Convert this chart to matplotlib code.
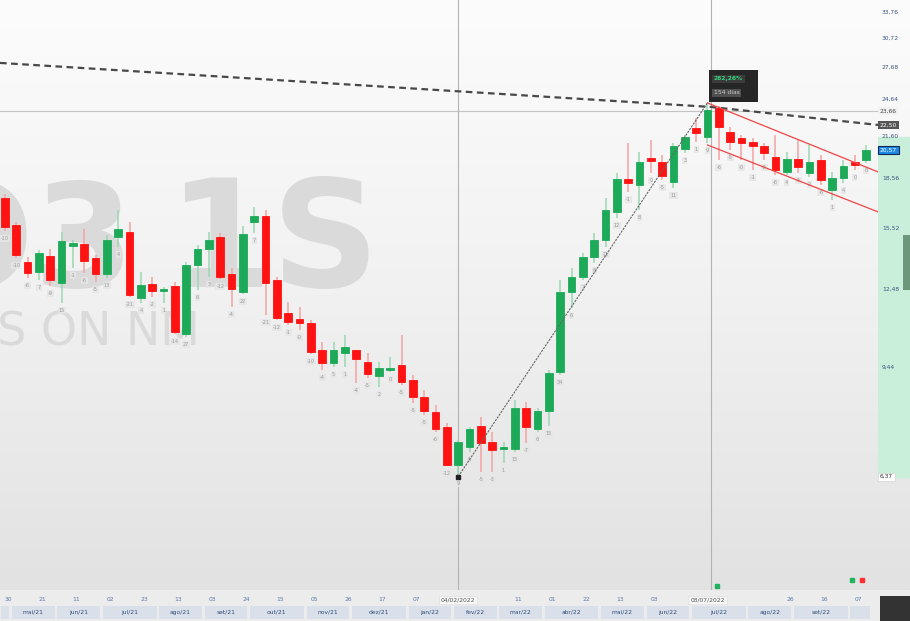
import matplotlib
matplotlib.use("Agg")
import matplotlib.pyplot as plt
import matplotlib.transforms as mtrans
from matplotlib.patches import Rectangle
from matplotlib.colors import LinearSegmentedColormap
import numpy as np
import pandas as pd

# weekly candles (1S)
ticker = "ONCO3"
period = "1S"
company = "ONCOCLINICAS ON NM"
first_week = "2021-04-30"

opens = [17.31, 15.72, 13.76, 13.28, 14.06, 12.76, 14.57, 14.68, 13.96, 13.18,
         15.05, 15.33, 12.09, 12.72, 12.40, 12.63, 10.63, 13.61, 14.42, 15.05,
         13.18, 12.36, 15.89, 16.23, 12.90, 11.46, 11.21, 11.05, 10.03, 9.58,
         9.93, 10.03, 9.61, 9.14, 9.34, 9.51, 9.01, 8.48, 8.03, 7.61,
         6.64, 7.08, 7.64, 7.21, 7.03, 7.03, 8.15, 7.56, 8.06, 9.27,
         12.36, 13.04, 14.01, 14.89, 16.47, 18.54, 18.14, 19.99, 19.70, 18.34,
         20.64, 22.26, 21.55, 23.92, 21.94, 21.48, 21.17, 20.87, 20.06, 19.01,
         19.92, 18.94, 19.85, 17.82, 18.60, 19.70, 19.85]
highs = [17.57, 15.89, 14.01, 14.37, 14.42, 15.33, 14.89, 15.49, 14.11, 15.16,
         16.58, 15.89, 13.28, 13.04, 12.58, 12.81, 13.76, 14.63, 15.33, 15.27,
         13.47, 15.66, 16.76, 16.58, 13.04, 11.92, 11.71, 11.17, 10.33, 10.33,
         10.59, 10.05, 9.93, 9.61, 9.79, 10.59, 9.17, 8.69, 8.24, 7.72,
         7.26, 7.61, 7.89, 7.48, 7.21, 8.38, 8.32, 8.15, 9.34, 12.90,
         13.47, 14.21, 15.27, 17.31, 18.94, 21.09, 20.42, 21.32, 20.20, 21.09,
         21.71, 23.07, 24.35, 24.09, 22.34, 21.71, 21.48, 21.09, 21.71, 20.42,
         21.32, 20.94, 20.20, 19.01, 19.85, 20.20, 20.94]
lows = [15.38, 13.96, 12.99, 12.90, 12.63, 11.88, 13.47, 13.23, 12.81, 12.99,
        14.52, 12.14, 11.88, 12.14, 11.88, 10.63, 10.51, 12.44, 13.04, 12.95,
        11.71, 12.27, 15.27, 11.38, 11.17, 10.98, 10.78, 9.89, 9.34, 9.44,
        9.44, 8.91, 9.07, 8.79, 9.27, 8.85, 8.30, 7.95, 7.48, 6.62,
        6.37, 6.96, 6.48, 6.48, 6.69, 6.96, 7.19, 7.48, 7.64, 9.17,
        11.67, 12.90, 13.71, 14.52, 16.12, 17.69, 16.58, 18.94, 18.47, 17.95,
        20.35, 21.17, 21.09, 19.85, 20.57, 19.85, 19.14, 19.85, 18.80, 18.80,
        18.94, 18.67, 18.14, 17.19, 18.27, 19.14, 19.63]
closes = [15.60, 14.11, 13.23, 14.21, 12.90, 14.84, 14.73, 13.81, 13.18, 14.89,
          15.49, 12.22, 12.67, 12.40, 12.49, 10.70, 13.61, 14.42, 14.89, 13.04,
          12.49, 15.22, 16.23, 12.76, 11.25, 11.09, 11.05, 9.96, 9.58, 10.03,
          10.14, 9.71, 9.21, 9.41, 9.41, 8.95, 8.48, 8.06, 7.56, 6.64,
          7.21, 7.56, 7.19, 7.01, 7.08, 8.15, 7.61, 8.06, 9.24, 12.36,
          13.04, 14.01, 14.89, 16.58, 18.54, 18.27, 19.70, 19.77, 18.74, 20.87,
          21.55, 21.86, 23.75, 22.34, 21.17, 21.09, 20.87, 20.35, 19.14, 19.92,
          19.35, 19.70, 18.47, 18.60, 19.42, 19.49, 20.57]

# drawings on the chart
low_bar = 40
peak_bar = 62
trend_x = [-0.44, 62.3, 77.05]
trend_y = [28.11, 24.00, 22.50]
chan_x = [62, 77.05]
chan_upper = [24.35, 19.01]
chan_lower = [20.94, 16.47]
hline_price = 23.66
band_top = 21.55
axis_ticks = [9.44, 12.48, 15.52, 18.56, 21.60, 24.64, 27.68, 30.72, 33.76]
months_pt = ["jan", "fev", "mar", "abr", "mai", "jun", "jul", "ago", "set", "out", "nov", "dez"]

o = np.array(opens); h = np.array(highs); l = np.array(lows); c = np.array(closes)
n = len(o)
idx = np.arange(n)
dates = pd.date_range(first_week, periods=n, freq="7D")


def br(v):
    return f"{v:.2f}".replace(".", ",")


W, H = 910, 621
fig = plt.figure(figsize=(W / 100, H / 100), dpi=100)
fig.patch.set_facecolor("#ececec")

chart_rect = [0, 31 / H, 878 / W, 590 / H]
XL = (-0.44, 77.05)
YL = (4.24, 35.23)

# background gradient behind chart + price axis
bg = fig.add_axes([0, 31 / H, 1, 590 / H], zorder=-2)
cmap = LinearSegmentedColormap.from_list("bg", ["#fcfcfc", "#f1f1f1", "#e2e2e2"])
bg.imshow(np.linspace(0, 1, 200).reshape(-1, 1), aspect="auto", cmap=cmap,
          extent=(0, 1, 0, 1))
bg.axis("off")

ax = fig.add_axes(chart_rect)
ax.set_facecolor("none")
ax.set_yscale("log")
ax.set_xlim(*XL)
ax.set_ylim(*YL)
ax.set_xticks([]); ax.set_yticks([])
ax.yaxis.set_minor_locator(matplotlib.ticker.NullLocator())
for s in ax.spines.values():
    s.set_visible(False)

# watermark
wm = dict(transform=fig.transFigure, ha="right", va="baseline", color="#dadada", zorder=0.5)
ax.text(135 / W, 1 - 287 / H, ticker, fontsize=104, weight="bold", **wm)
ax.text(380 / W, 1 - 287 / H, period, fontsize=108, weight="bold", **wm)
ax.text(200 / W, 1 - 345 / H, company, fontsize=33, **wm)

# reference lines
ax.axhline(hline_price, color="#c4c4c4", lw=0.8, zorder=1)
ax.axvline(low_bar, color="#b3b3b3", lw=0.8, zorder=1)
ax.axvline(peak_bar + 0.3, color="#b3b3b3", lw=0.8, zorder=1)

# candles
up = c >= o
body_col = np.where(up, "#1daa58", "#ff1212")
wick_col = np.where(up, "#9bd7b2", "#f3a2a2")
ax.vlines(idx, l, h, colors=wick_col, lw=1.1, zorder=2)
ax.bar(idx, np.abs(c - o), bottom=np.minimum(o, c), width=0.68,
       color=body_col, edgecolor=body_col, lw=0.6, zorder=3)

# small change labels under each candle
prev = np.concatenate([[o[0]], c[:-1]])
chg = (c / prev - 1) * 100
for i in idx:
    ax.annotate(f"{chg[i]:.0f}", (i, l[i]), xytext=(0, -3.5), textcoords="offset points",
                ha="center", va="top", fontsize=3.6, color="#9a9a9a", zorder=2,
                bbox=dict(boxstyle="square,pad=0.2", fc="#e6e6e6", ec="none", alpha=0.85))

# trend / channel lines
ax.plot(trend_x, trend_y, color="#484848", lw=1.6, dashes=(3, 2), zorder=4)
ax.plot(chan_x, chan_upper, color="#f04545", lw=0.9, zorder=4)
ax.plot(chan_x, chan_lower, color="#f04545", lw=0.9, zorder=4)
ax.plot([low_bar, peak_bar], [l[low_bar], h[peak_bar]], color="#666666", lw=0.8,
        dashes=(2, 1), zorder=4)
ax.plot([low_bar], [l[low_bar]], marker="s", ms=2.5, color="#222222", zorder=5)

# measurement tooltip
pct = (h[peak_bar] / l[low_bar] - 1) * 100
days = (dates[peak_bar] - dates[low_bar]).days
ax.add_patch(Rectangle((62.13, 24.44), 4.33, 27.41 - 24.44, fc="#262626", ec="none", zorder=6))
ax.text(62.55, 26.54, f"{br(pct)}%", ha="left", va="center", fontsize=4.3, weight="bold",
        color="#33d17a", zorder=7,
        bbox=dict(boxstyle="square,pad=0.3", fc="#3b3b3b", ec="none"))
ax.text(62.55, 25.24, f"{days} dias", ha="left", va="center", fontsize=4.3,
        color="#d0d0d0", zorder=7,
        bbox=dict(boxstyle="square,pad=0.3", fc="#505050", ec="none"))

# tiny signal squares near the bottom
ax.plot([62.84], [4.30], "s", ms=2.2, color="#21b35c", zorder=5)
ax.plot([74.76], [4.40], "s", ms=2.2, color="#21b35c", zorder=5)
ax.plot([75.64], [4.40], "s", ms=2.2, color="#ff3030", zorder=5)

# price axis on the right
axr = fig.add_axes([878 / W, 31 / H, 32 / W, 590 / H], sharey=ax)
axr.set_facecolor("none")
axr.set_xlim(0, 1)
for s in axr.spines.values():
    s.set_visible(False)
axr.tick_params(left=False, right=False, labelleft=False, bottom=False, labelbottom=False)
axr.axhspan(l[low_bar], band_top, color="#c9eed9", zorder=0)
axr.add_patch(Rectangle((0.78, 12.44), 0.22, 15.16 - 12.44, fc="#6d977a", ec="none", zorder=1))
tr = mtrans.blended_transform_factory(axr.transAxes, axr.transData)
for v in axis_ticks:
    axr.text(0.12, v, br(v), transform=tr, ha="left", va="center", fontsize=4.3,
             color="#3d5482", zorder=2)
axr.text(0.06, l[low_bar], br(l[low_bar]), transform=tr, ha="left", va="center",
         fontsize=4.3, color="#333333", zorder=3,
         bbox=dict(boxstyle="square,pad=0.25", fc="#ffffff", ec="#cccccc", lw=0.4))
axr.text(0.06, hline_price, br(hline_price), transform=tr, ha="left", va="center",
         fontsize=4.3, color="#444444", zorder=3,
         bbox=dict(boxstyle="square,pad=0.25", fc="#f2f2f2", ec="none"))
axr.text(0.06, trend_y[-1], br(trend_y[-1]), transform=tr, ha="left", va="center",
         fontsize=4.3, color="#ffffff", zorder=3,
         bbox=dict(boxstyle="square,pad=0.3", fc="#555555", ec="none"))
axr.text(0.06, c[-1], br(c[-1]), transform=tr, ha="left", va="center",
         fontsize=4.3, color="#ffffff", zorder=3,
         bbox=dict(boxstyle="square,pad=0.3", fc="#1e88e5", ec="#102a55", lw=0.8))

# time axis
axb = fig.add_axes([0, 0, 878 / W, 31 / H])
axb.set_xlim(*XL)
axb.set_ylim(0, 1)
axb.axis("off")
axb.add_patch(Rectangle((XL[0], 0.52), XL[1] - XL[0], 0.48, fc="#ececec", ec="none"))

day_ticks = [i for i in range(0, n, 3) if abs(i - low_bar) > 2 and abs(i - peak_bar) > 4]
for i in day_ticks:
    axb.text(i + 0.3, 0.68, dates[i].strftime("%d"), ha="center", va="center",
             fontsize=4.3, color="#5a78ad")
for i in (low_bar, peak_bar):
    axb.text(i, 0.68, dates[i].strftime("%d/%m/%Y"), ha="center", va="center",
             fontsize=4.3, color="#555555",
             bbox=dict(boxstyle="square,pad=0.3", fc="#f7f7f7", ec="#dadada", lw=0.4))

mkeys = dates.year * 100 + dates.month
for key in pd.unique(mkeys):
    sel = idx[mkeys == key]
    x0, x1 = sel[0] - 0.5 + 0.12, sel[-1] + 0.5 - 0.12
    axb.add_patch(Rectangle((x0, 0.06), x1 - x0, 0.44, fc="#d9e0e9", ec="none"))
    if len(sel) >= 3:
        d = dates[sel[0]]
        axb.text((sel[0] + sel[-1]) / 2, 0.28, f"{months_pt[d.month - 1]}/{d.strftime('%y')}",
                 ha="center", va="center", fontsize=4.3, color="#2e4b7c")

# corner box
fig.patches.append(Rectangle((880 / W, 0), 30 / W, 25 / H, transform=fig.transFigure,
                             fc="#333333", ec="none"))

fig.savefig("out.png", dpi=100)
